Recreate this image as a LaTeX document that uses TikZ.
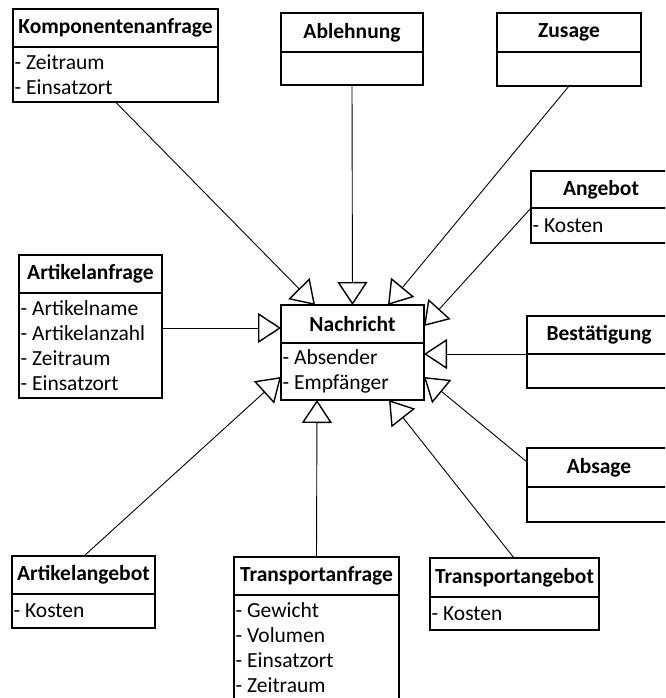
\documentclass[tikz,border=0pt]{standalone}
\usepackage{fontspec}
\setmainfont{Carlito}
\usetikzlibrary{arrows.meta,calc}

\newcommand\classfont{\fontsize{21.5}{25}\selectfont}

\tikzset{
  clstitle/.style={draw, line width=1.4pt, anchor=north west, inner sep=0pt,
    outer sep=0pt, font=\classfont\bfseries},
  clsbody/.style={draw, line width=1.4pt, anchor=north west, inner sep=0pt,
    outer sep=0pt},
  attr/.style={anchor=west, align=left, inner sep=0pt, font=\classfont},
  gen/.style={line width=0.9pt,
    -{Triangle[open, length=23pt, width=30pt, line width=1.4pt]}},
}

% #1 name, #2 x, #3 y (top), #4 width, #5 title height, #6 body height,
% #7 class name, #8 attributes
\newcommand\umlclass[8]{%
  \node[clstitle, minimum width=#4pt, minimum height=#5pt] (#1) at (#2,#3) {#7};
  \node[clsbody, minimum width=#4pt, minimum height=#6pt] (#1-b) at (#1.south west) {};
  \node[attr] (#1-t) at ([xshift=1.5pt]#1-b.west) {#8};
}

\begin{document}
\begin{tikzpicture}[x=1pt, y=1pt]
  \useasboundingbox (0,0) rectangle (665,-698);
  \clip (0,0) rectangle (665,-698);
  \fill[white] (0,0) rectangle (665,-698);

  % classes
  \umlclass{komp}{13}{-9}{205}{38}{55}{Komponentenanfrage}{- Zeitraum\\- Einsatzort}
  \umlclass{abl}{281}{-13}{142}{39}{33}{Ablehnung}{}
  \umlclass{zus}{497}{-13}{144}{39}{34}{Zusage}{}
  \umlclass{afr}{19}{-255}{143}{38}{105}{Artikelanfrage}{- Artikelname\\- Artikelanzahl\\- Zeitraum\\- Einsatzort}
  \umlclass{nach}{281}{-305}{143}{38}{57}{Nachricht}{- Absender\\- Empfänger}
  \umlclass{ang}{531}{-171}{140}{37}{35}{Angebot}{- Kosten}
  \umlclass{bst}{527}{-316}{144}{38}{34}{Bestätigung}{}
  \umlclass{abs}{527}{-448}{144}{39}{35}{Absage}{}
  \umlclass{aag}{12}{-556}{143}{38}{34}{Artikelangebot}{- Kosten}
  \umlclass{trf}{234}{-557}{165}{38}{106}{Transportanfrage}{- Gewicht\\- Volumen\\- Einsatzort\\- Zeitraum}
  \umlclass{tag}{430}{-558}{169}{39}{33}{Transportangebot}{- Kosten}

  % arrow tips on the border of Nachricht
  \coordinate (kompTip) at ($(nach.north west)+(34,0)$);
  \coordinate (ablTip)  at (nach.north);
  \coordinate (zusTip)  at ($(nach.north west)+(107,0)$);
  \coordinate (angTip)  at ($(nach.north east)+(0,-21)$);
  \coordinate (bstTip)  at ($(nach-b.north east)+(0,-11)$);
  \coordinate (absTip)  at ($(nach-b.south east)+(0,23)$);
  \coordinate (tagTip)  at ($(nach-b.south east)+(-35,0)$);
  \coordinate (trfTip)  at ($(nach-b.south west)+(36,0)$);
  \coordinate (aagTip)  at ($(nach-b.south west)+(0,23)$);
  \coordinate (afrTip)  at ($(nach.north west)+(0,-23)$);

  % start points on the specialised classes
  \coordinate (angFoot) at (ang.south west);
  \coordinate (bstFoot) at (bst.south west);
  \coordinate (absFoot) at ($(abs.north west)+(0,-14)$);
  \coordinate (tagFoot) at ($(tag.north west)+(84,0)$);
  \coordinate (aagFoot) at ($(aag.north west)+(72,0)$);
  \coordinate (afrFoot) at ($(afr-b.north east)+(0,-35)$);

  % generalisation arrows
  \draw[gen] (komp-b.south) -- (kompTip);
  \draw[gen] (abl-b.south) -- (ablTip);
  \draw[gen] (zus-b.south) -- (zusTip);
  \draw[gen] (angFoot) -- (angTip);
  \draw[gen] (bstFoot) -- (bstTip);
  \draw[gen] (absFoot) -- (absTip);
  \draw[gen] (tagFoot) -- (tagTip);
  \draw[gen] (trf.north) -- (trfTip);
  \draw[gen] (aagFoot) -- (aagTip);
  \draw[gen] (afrFoot) -- (afrTip);
\end{tikzpicture}
\end{document}
